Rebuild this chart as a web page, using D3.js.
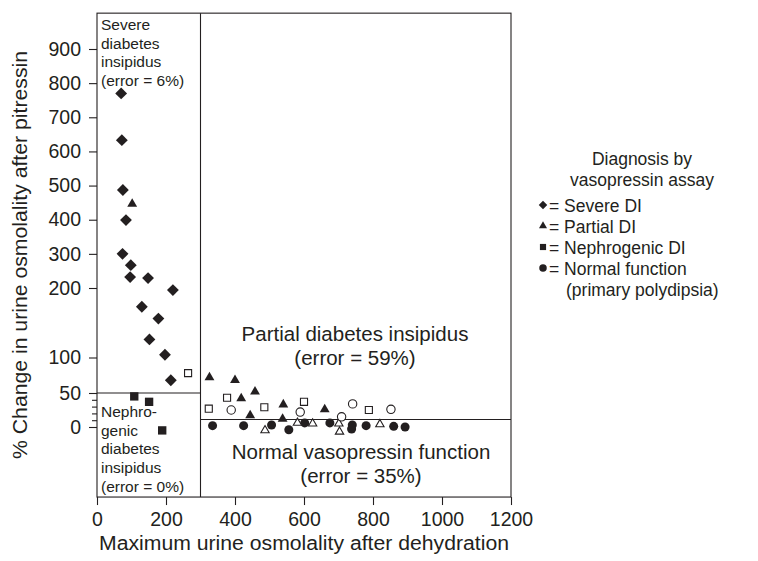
<!DOCTYPE html>
<html>
<head>
<meta charset="utf-8">
<script src="https://cdn.jsdelivr.net/npm/d3@7"></script>
<style>
  body { margin: 0; background: #fff; }
  svg { display: block; font-family: "Liberation Sans", Arial, Helvetica, sans-serif; }
</style>
</head>
<body>
<div id="chart"></div>
<script>
// diagnosis by vasopressin assay (filled marks)
const severeDI = [[70, 770], [72, 633], [75, 487], [84, 399], [74, 300], [98, 267], [96, 232], [148, 229],
  [220, 197], [130, 173], [178, 156], [152, 126], [197, 104], [214, 68]];
const partialDI = [[102, 446], [326, 72], [400, 68], [418, 42], [458, 52], [444, 17], [540, 33], [538, 12], [660, 26]];
const nephrogenicDI = [[108, 45], [151, 37], [189, -5]];
const normalFunction = [[335, 2], [425, 2], [506, 3], [556, -4], [602, 6], [675, 6], [740, 3], [738, -3],
  [780, 2], [860, 1], [893, 0]];
// open marks
const openSquares = [[264, 78], [324, 27], [377, 43], [485, 29], [600, 37], [788, 25]];
const openCircles = [[389, 25], [589, 22], [741, 34], [709, 15], [852, 26]];
const openTriangles = [[487, -5], [581, 6], [625, 5], [701, 5], [703, -7], [820, 4]];

const xTicks = [0, 200, 400, 600, 800, 1000, 1200];
const yTicks = [0, 50, 100, 200, 300, 400, 500, 600, 700, 800, 900];
const yMinorTicks = [10, 20, 30, 40];
const xLimits = [0, 1200];
const yLimits = [-103, 1005];
const osmolalityCut = 300;
const nephroCut = 50;
const normalCut = 11;

const legendTitle = ["Diagnosis by", "vasopressin assay"];
const legendLabels = ["= Severe DI", "= Partial DI", "= Nephrogenic DI", "= Normal function", "(primary polydipsia)"];

const width = 758;
const height = 561;
const ink = "#231f20";

const svg = d3.select("#chart").append("svg").attr("width", width).attr("height", height);

const x = d3.scaleLinear().domain(xLimits).range([97, 511]);
// broken scale: 0-50, 50-100 and 100-200 stretched compared to 200-900
const y = d3.scaleLinear().domain([0, 50, 100, 200, 900]).range([427, 393, 357.5, 288, 49]);

/** frame and region lines **/
const lines = svg.append("g").attr("stroke", ink).attr("stroke-width", 1.1).attr("fill", "none");
lines.append("rect")
  .attr("x", x(xLimits[0])).attr("y", y(yLimits[1]))
  .attr("width", x(xLimits[1]) - x(xLimits[0]))
  .attr("height", y(yLimits[0]) - y(yLimits[1]));
lines.append("line")
  .attr("x1", x(osmolalityCut)).attr("x2", x(osmolalityCut))
  .attr("y1", y(yLimits[0])).attr("y2", y(yLimits[1]));
lines.append("line")
  .attr("x1", x(xLimits[0])).attr("x2", x(osmolalityCut))
  .attr("y1", y(nephroCut)).attr("y2", y(nephroCut));
lines.append("line")
  .attr("x1", x(osmolalityCut)).attr("x2", x(xLimits[1]))
  .attr("y1", y(normalCut)).attr("y2", y(normalCut));

/** axes **/
svg.append("g")
  .attr("transform", `translate(${x(xLimits[0])},0)`)
  .call(d3.axisLeft(y).tickValues(yTicks).tickSize(8).tickPadding(8))
  .call((g) => {
    g.select(".domain").remove();
    g.selectAll("line").attr("stroke", ink).attr("stroke-width", 1.1);
    g.selectAll("text").attr("fill", ink).attr("font-size", 19.5).attr("font-family", null);
  });

svg.append("g")
  .attr("transform", `translate(${x(xLimits[0])},0)`)
  .call(d3.axisLeft(y).tickValues(yMinorTicks).tickSize(5).tickFormat(""))
  .call((g) => {
    g.select(".domain").remove();
    g.selectAll("line").attr("stroke", ink).attr("stroke-width", 1.1);
  });

svg.append("g")
  .attr("transform", `translate(0,${y(yLimits[0])})`)
  .call(d3.axisBottom(x).tickValues(xTicks).tickSize(8).tickPadding(7).tickFormat(d3.format("d")))
  .call((g) => {
    g.select(".domain").remove();
    g.selectAll("line").attr("stroke", ink).attr("stroke-width", 1.1);
    g.selectAll("text").attr("fill", ink).attr("font-size", 19.5).attr("font-family", null);
  });

/** axis titles **/
svg.append("text")
  .attr("x", (x(xLimits[0]) + x(xLimits[1])) / 2)
  .attr("y", 550)
  .attr("text-anchor", "middle")
  .attr("font-size", 19.5)
  .attr("textLength", 410)
  .attr("lengthAdjust", "spacingAndGlyphs")
  .attr("fill", ink)
  .text("Maximum urine osmolality after dehydration");

svg.append("text")
  .attr("transform", "translate(27,255) rotate(-90)")
  .attr("text-anchor", "middle")
  .attr("font-size", 19.5)
  .attr("textLength", 408)
  .attr("lengthAdjust", "spacingAndGlyphs")
  .attr("fill", ink)
  .text("% Change in urine osmolality after pitressin");

/** region labels **/
const multiline = (lns, px, py, size, anchor, step) => {
  const t = svg.append("text")
    .attr("font-size", size)
    .attr("fill", ink)
    .attr("text-anchor", anchor);
  lns.forEach((s, i) => t.append("tspan").attr("x", px).attr("y", py + i * step).text(s));
};

multiline(["Severe", "diabetes", "insipidus", "(error = 6%)"], 101, 30, 15.5, "start", 18.7);
multiline(["Nephro-", "genic", "diabetes", "insipidus", "(error = 0%)"], 101, 417, 15.5, "start", 18.7);
multiline(["Partial diabetes insipidus", "(error = 59%)"], 355, 341, 20.5, "middle", 24);
multiline(["Normal vasopressin function", "(error = 35%)"], 361, 459, 20.5, "middle", 24);

/** points **/
const sym = (type, size) => d3.symbol().type(type).size(size)();

const drawSeries = (data, shape, opts) => {
  svg.append("g")
    .selectAll("path")
    .data(data)
    .join("path")
    .attr("d", shape)
    .attr("transform", (d) => `translate(${x(d[0])},${y(d[1])})${opts.rotate ? " rotate(45)" : ""}`)
    .attr("fill", opts.open ? "#fff" : ink)
    .attr("stroke", ink)
    .attr("stroke-width", opts.open ? 1.1 : 0);
};

drawSeries(normalFunction, sym(d3.symbolCircle, 64), {});
drawSeries(openTriangles, sym(d3.symbolTriangle, 30), { open: true });
drawSeries(openCircles, sym(d3.symbolCircle, 55), { open: true });
drawSeries(openSquares, sym(d3.symbolSquare, 50), { open: true });
drawSeries(nephrogenicDI, sym(d3.symbolSquare, 70), {});
drawSeries(partialDI, sym(d3.symbolTriangle, 42), {});
drawSeries(severeDI, sym(d3.symbolSquare, 70), { rotate: true });

/** legend **/
const legend = svg.append("g").attr("fill", ink);
legendTitle.forEach((s, i) => {
  legend.append("text")
    .attr("x", 642)
    .attr("y", 165 + i * 21)
    .attr("text-anchor", "middle")
    .attr("font-size", 17.5)
    .text(s);
});

const legendShapes = [
  { d: sym(d3.symbolSquare, 36), rotate: true },
  { d: sym(d3.symbolTriangle, 28) },
  { d: sym(d3.symbolSquare, 38) },
  { d: sym(d3.symbolCircle, 44) },
];
legendLabels.forEach((s, i) => {
  const rowY = 205 + i * 21;
  if (legendShapes[i]) {
    legend.append("path")
      .attr("d", legendShapes[i].d)
      .attr("transform", `translate(543,${rowY})${legendShapes[i].rotate ? " rotate(45)" : ""}`);
  }
  legend.append("text")
    .attr("x", i < 4 ? 549 : 566)
    .attr("y", rowY + 6.5)
    .attr("font-size", 17.5)
    .text(s);
});
</script>
</body>
</html>
